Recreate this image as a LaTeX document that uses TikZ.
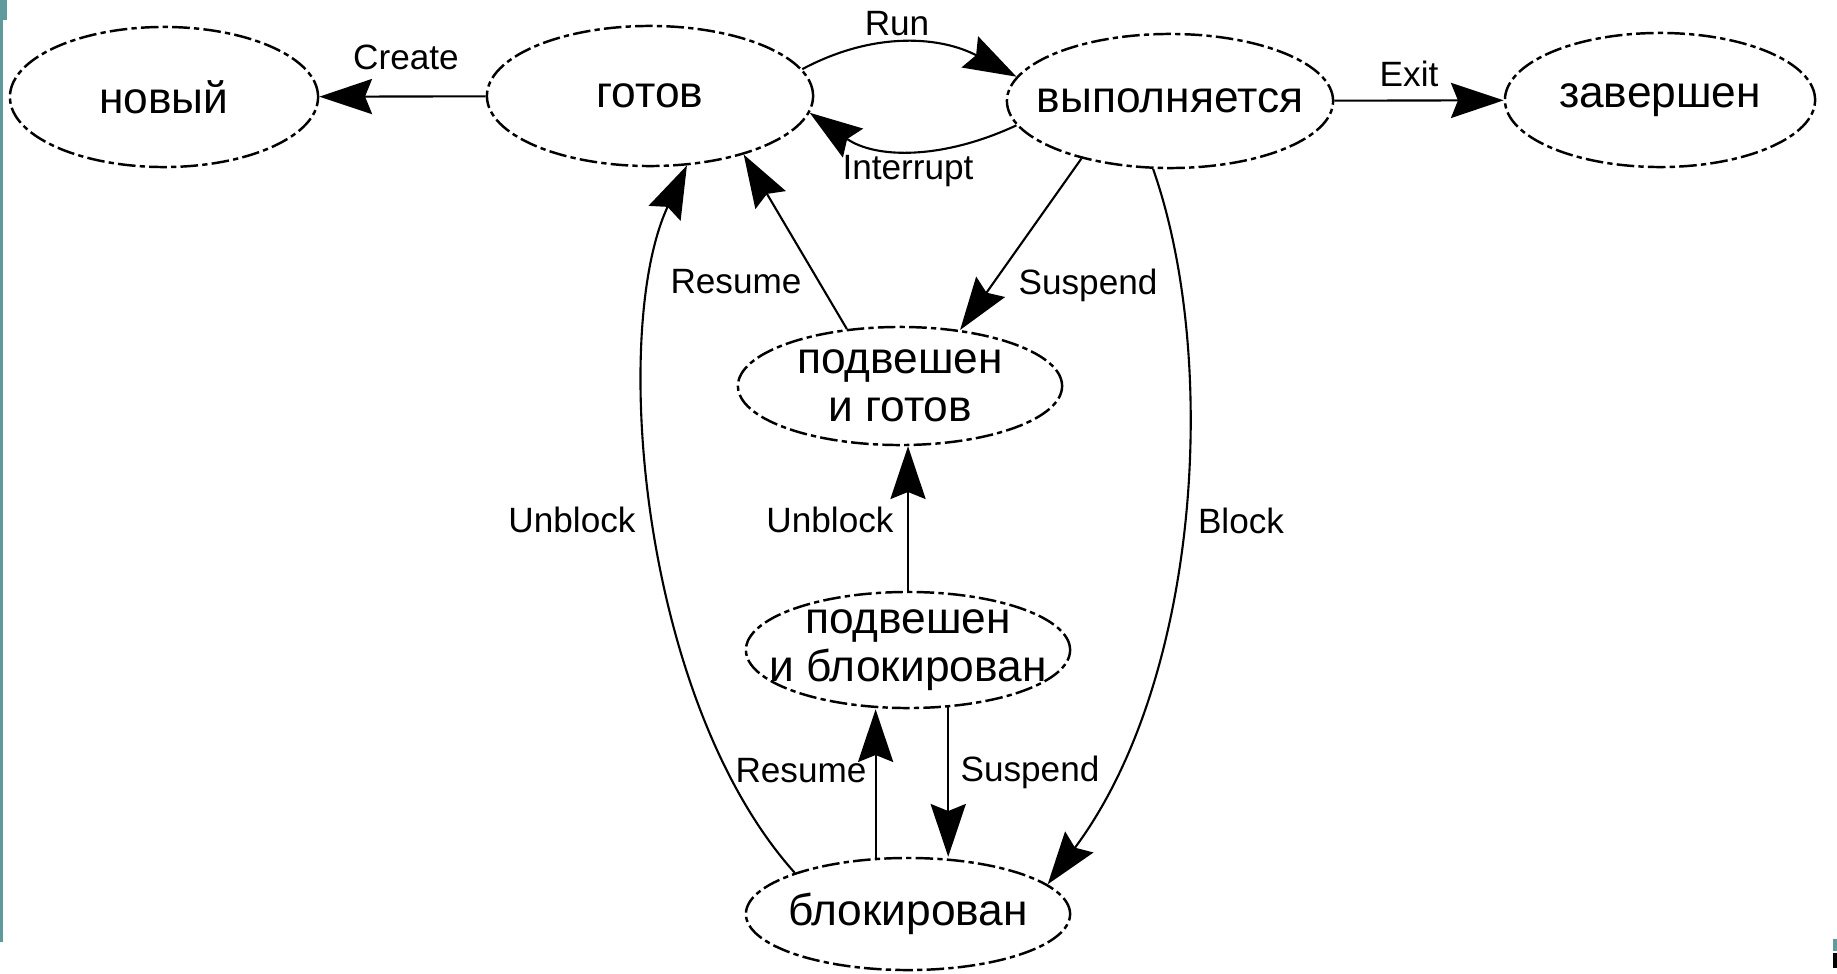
\documentclass[tikz,border=0pt]{standalone}
\usepackage{fontspec}
\setmainfont{Liberation Sans}
\usetikzlibrary{arrows.meta,shapes.geometric}
\definecolor{slideteal}{RGB}{96,154,156}
\begin{document}
\begin{tikzpicture}[x=0.01cm,y=0.01cm,
    state/.style={ellipse,draw,line width=0.7pt,
        dash pattern=on 5pt off 1.2pt on 1.5pt off 1.2pt,
        inner xsep=-1cm,inner ysep=-0.4cm,align=center,
        font=\fontsize{12.6}{13.8}\selectfont},
    lbl/.style={font=\fontsize{10}{12}\selectfont,inner sep=0pt},
    arr/.style={line width=0.6pt,-{Stealth[length=15pt,width=10pt,inset=2pt]}}]
    \useasboundingbox (0,0) rectangle (1837,-973);
    % slide edge
    \fill[slideteal] (0,0) rectangle (3,-942);
    \fill[slideteal] (0,0) rectangle (7,-20);
    \fill[slideteal] (1833,-939) rectangle (1837,-951);
    \fill[black] (1833,-953) rectangle (1837,-968);
    % states
    \node[state,minimum width=3.08cm,minimum height=1.40cm] (novyj) at (164,-97) {новый};
    \node[state,minimum width=3.26cm,minimum height=1.40cm] (gotov) at (650,-96) {готов};
    \node[state,minimum width=3.26cm,minimum height=1.34cm] (vypoln) at (1170,-101) {выполняется};
    \node[state,minimum width=3.10cm,minimum height=1.34cm] (zavershen) at (1660,-100) {завершен};
    \node[state,minimum width=3.24cm,minimum height=1.18cm] (podgot) at (900,-386) {подвешен\\и готов};
    \node[state,minimum width=3.24cm,minimum height=1.16cm] (podblok) at (908,-650) {подвешен\\и блокирован};
    \node[state,minimum width=3.24cm,minimum height=1.12cm] (blok) at (908,-914) {блокирован};
    % transitions
    \draw[arr] (gotov) -- (novyj);
    \draw[arr] (gotov.10) to[out=28,in=152] (vypoln.171);
    \draw[arr] (vypoln.189) to[out=205,in=-35] (gotov.-6);
    \draw[arr] (vypoln) -- (zavershen);
    \draw[arr] (vypoln.213) -- (podgot.43);
    \draw[arr] (podgot.133) -- (gotov.-32);
    \draw[arr] (podblok.north) -- (podblok.north |- podgot.south);
    \draw[arr] (blok.120) -- (blok.120 |- podblok.south);
    \draw[arr] (podblok.-55) -- (podblok.-55 |- blok.north);
    \draw[arr] (vypoln.-104) .. controls (1220,-360) and (1200,-680) .. (blok.12);
    \draw[arr] (blok.160) .. controls (640,-700) and (610,-330) .. (gotov.-62);
    % labels
    \node[lbl] (lcreate) at (406,-57) {Create};
    \node[lbl] (lrun) at (897,-24) {Run};
    \node[lbl] (linterrupt) at (908,-171) {Interrupt};
    \node[lbl] (lexit) at (1409,-74) {Exit};
    \node[lbl] (lresumeup) at (736,-282) {Resume};
    \node[lbl] (lsuspendup) at (1088,-285) {Suspend};
    \node[lbl] (lunblockleft) at (572,-520) {Unblock};
    \node[lbl] (lunblockmid) at (830,-520) {Unblock};
    \node[lbl] (lblock) at (1241,-521) {Block};
    \node[lbl] (lresumelow) at (801,-771) {Resume};
    \node[lbl] (lsuspendlow) at (1030,-772) {Suspend};
\end{tikzpicture}
\end{document}
